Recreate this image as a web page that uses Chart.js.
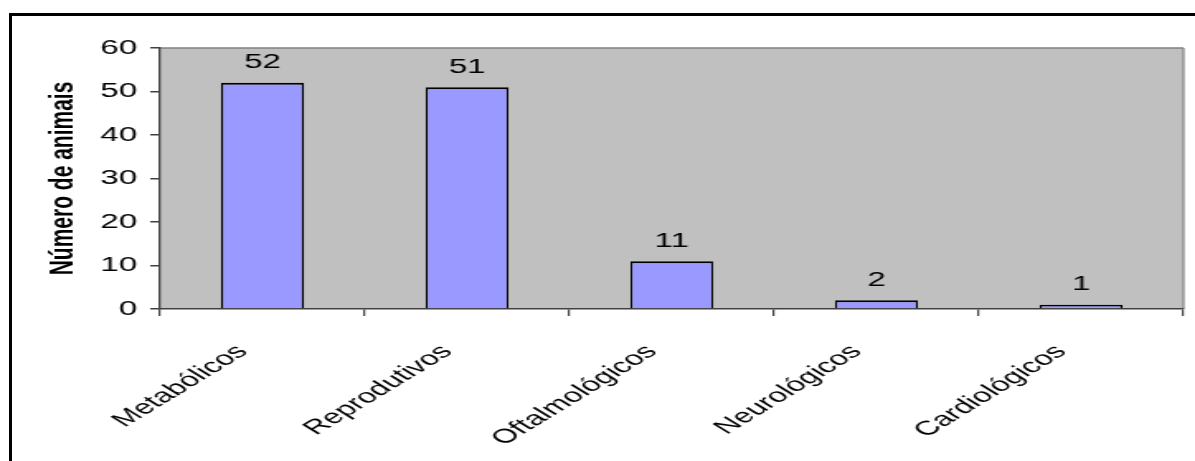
<!DOCTYPE html>
<html>
<head>
<meta charset="utf-8">
<script src="https://cdn.jsdelivr.net/npm/chart.js@4.4.1/dist/chart.umd.min.js"></script>
<style>
  html, body { margin: 0; padding: 0; background: #ffffff; width: 1195px; height: 461px; overflow: hidden; }
  .rule { position: absolute; background: #000; }
  #ruleTop { left: 9px; top: 13px; width: 1186px; height: 3px; }
  #ruleLeft { left: 9px; top: 13px; width: 3px; height: 448px; }
  /* the chart is drawn narrow and widened horizontally */
  #wrap {
    position: absolute; left: 0; top: 0; width: 724px; height: 461px;
    transform: scaleX(1.6506); transform-origin: 0 0;
  }
</style>
</head>
<body>
<div class="rule" id="ruleTop"></div>
<div class="rule" id="ruleLeft"></div>
<div id="wrap"><canvas id="c" width="724" height="461"></canvas></div>
<script>
const categories = ['Metabólicos', 'Reprodutivos', 'Oftalmológicos', 'Neurológicos', 'Cardiológicos'];
const animalCounts = [52, 51, 11, 2, 1];
const yTicks = [0, 10, 20, 30, 40, 50, 60];

const FONT = "'Liberation Sans', Arial, sans-serif";

// grey plot area with a thin frame on top and right
const plotFrame = {
  id: 'plotFrame',
  beforeDraw(chart) {
    const { ctx, chartArea: a } = chart;
    ctx.save();
    ctx.fillStyle = '#c0c0c0';
    ctx.fillRect(a.left, a.top, a.right - a.left, a.bottom - a.top);
    ctx.strokeStyle = '#808080';
    ctx.lineWidth = 1.5;
    ctx.beginPath();
    ctx.moveTo(a.left, a.top);
    ctx.lineTo(a.right, a.top);
    ctx.stroke();
    ctx.lineWidth = 1.2;
    ctx.beginPath();
    ctx.moveTo(a.right, a.top);
    ctx.lineTo(a.right, a.bottom);
    ctx.stroke();
    ctx.restore();
  }
};

// value printed above each bar
const barValues = {
  id: 'barValues',
  afterDatasetsDraw(chart) {
    const { ctx } = chart;
    const meta = chart.getDatasetMeta(0);
    const data = chart.data.datasets[0].data;
    ctx.save();
    ctx.font = '20px ' + FONT;
    ctx.fillStyle = '#000';
    ctx.textAlign = 'center';
    ctx.textBaseline = 'alphabetic';
    meta.data.forEach((bar, i) => {
      ctx.fillText(String(data[i]), bar.x, bar.y - 14.5);
    });
    ctx.restore();
  }
};

new Chart(document.getElementById('c'), {
  type: 'bar',
  data: {
    labels: categories,
    datasets: [{
      data: animalCounts,
      backgroundColor: '#9999ff',
      borderColor: '#000000',
      borderWidth: { top: 2, left: 1.3, right: 1.3, bottom: 0 },
      borderSkipped: 'bottom',
      barPercentage: 0.405,
      categoryPercentage: 1.0
    }]
  },
  options: {
    responsive: false,
    devicePixelRatio: 1,
    animation: false,
    events: [],
    layout: { padding: { left: 0, right: 7, top: 48, bottom: 0 } },
    plugins: {
      legend: { display: false },
      tooltip: { enabled: false },
      title: { display: false }
    },
    scales: {
      x: {
        type: 'category',
        offset: true,
        grid: {
          offset: true,
          drawOnChartArea: false,
          drawTicks: true,
          tickLength: 7,
          color: '#404040',
          lineWidth: 1.2
        },
        border: { display: true, color: '#404040', width: 1.5 },
        ticks: {
          color: '#000',
          font: { family: FONT, size: 20 },
          minRotation: 45,
          maxRotation: 45,
          autoSkip: false,
          padding: 24,
          labelOffset: -12
        },
        afterFit(scale) { scale.height = 152; }
      },
      y: {
        min: 0,
        max: 60,
        afterBuildTicks(scale) { scale.ticks = yTicks.map(v => ({ value: v })); },
        grid: {
          drawOnChartArea: false,
          drawTicks: true,
          tickLength: 6,
          color: '#404040',
          lineWidth: 1.5
        },
        border: { display: true, color: '#404040', width: 1.3 },
        ticks: {
          color: '#000',
          font: { family: FONT, size: 20 },
          padding: 8
        },
        title: {
          display: true,
          text: 'Número de animais',
          color: '#000',
          font: { family: FONT, size: 21, weight: 'bold' },
          padding: { top: 26, bottom: 0 }
        },
        afterFit(scale) { scale.width = 97; }
      }
    }
  },
  plugins: [plotFrame, barValues]
});
</script>
</body>
</html>
